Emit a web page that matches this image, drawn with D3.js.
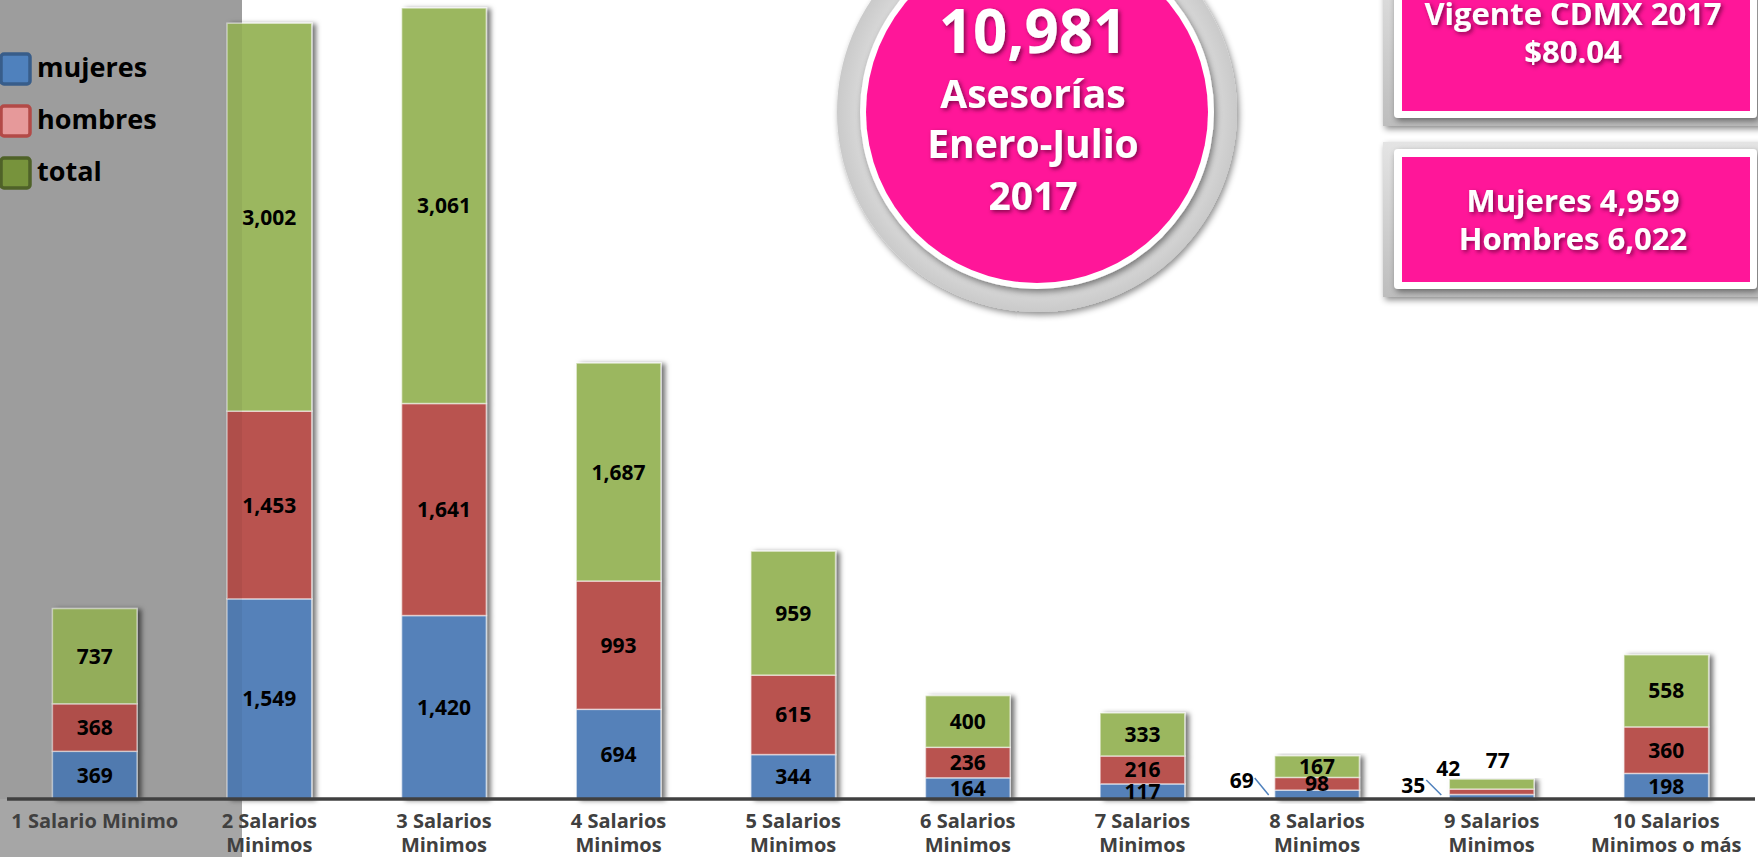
<!DOCTYPE html>
<meta charset="utf-8">
<script src="https://d3js.org/d3.v7.min.js"></script>
<style>
body { margin: 0; background: #fff; }
text { font-family: "Open Sans", "Noto Sans", sans-serif; font-weight: bold; }
</style>
<div id="chart"></div>
<script>
// datos de la grafica
var categorias = [["1 Salario Minimo"], ["2 Salarios", "Minimos"], ["3 Salarios", "Minimos"],
  ["4 Salarios", "Minimos"], ["5 Salarios", "Minimos"], ["6 Salarios", "Minimos"],
  ["7 Salarios", "Minimos"], ["8 Salarios", "Minimos"], ["9 Salarios", "Minimos"],
  ["10 Salarios", "Minimos o más"]];
var mujeres = [369, 1549, 1420, 694, 344, 164, 117, 69, 35, 198];
var hombres = [368, 1453, 1641, 993, 615, 236, 216, 98, 42, 360];
var total   = [737, 3002, 3061, 1687, 959, 400, 333, 167, 77, 558];
var series = ["mujeres", "hombres", "total"];
var circuloTexto = ["10,981", "Asesorías", "Enero-Julio", "2017"];
var caja1Texto = ["Vigente CDMX 2017", "$80.04"];
var caja2Texto = ["Mujeres 4,959", "Hombres 6,022"];

var W = 1758, H = 857;
var colorBarra = {mujeres: "#5581b9", hombres: "#b9534f", total: "#9bb75e"};
var leyenda = [
  {k: "mujeres", fill: "#4f81bd", stroke: "#385d8a"},
  {k: "hombres", fill: "#e6999a", stroke: "#b34a47"},
  {k: "total",   fill: "#77933c", stroke: "#4f6228"}
];

var rows = categorias.map(function(c, i) {
  return {cat: c.join(" "), lineas: c, mujeres: mujeres[i], hombres: hombres[i], total: total[i]};
});

var svg = d3.select("#chart").append("svg").attr("width", W).attr("height", H);
var defs = svg.append("defs");
defs.append("filter").attr("id", "sombra").attr("x", "-20%").attr("y", "-5%").attr("width", "150%").attr("height", "115%")
  .append("feDropShadow").attr("dx", 4).attr("dy", 1).attr("stdDeviation", 2.5)
  .attr("flood-color", "#000").attr("flood-opacity", 0.55);
defs.append("filter").attr("id", "sombraTxt").attr("x", "-10%").attr("y", "-20%").attr("width", "130%").attr("height", "150%")
  .append("feDropShadow").attr("dx", 2).attr("dy", 2).attr("stdDeviation", 2)
  .attr("flood-color", "#5a0030").attr("flood-opacity", 0.75);
defs.append("filter").attr("id", "sombraCaja").attr("x", "-10%").attr("y", "-10%").attr("width", "130%").attr("height", "130%")
  .append("feDropShadow").attr("dx", 2).attr("dy", 3).attr("stdDeviation", 3)
  .attr("flood-color", "#000").attr("flood-opacity", 0.45);
var gCaja = defs.append("linearGradient").attr("id", "gradCaja").attr("x1", 0).attr("y1", 0).attr("x2", 0).attr("y2", 1);
gCaja.append("stop").attr("offset", "0%").attr("stop-color", "#e4e4e4");
gCaja.append("stop").attr("offset", "100%").attr("stop-color", "#bdbdbd");
var gAnillo = defs.append("radialGradient").attr("id", "gradAnillo");
gAnillo.append("stop").attr("offset", "88%").attr("stop-color", "#d9d9d9");
gAnillo.append("stop").attr("offset", "100%").attr("stop-color", "#cacaca");

// panel gris de la izquierda
svg.append("rect").attr("x", 0).attr("y", 0).attr("width", 242).attr("height", H).attr("fill", "#a6a6a6");

var x = d3.scaleBand().domain(rows.map(function(d) { return d.cat; }))
  .range([7, 1754]).paddingInner(0.515).paddingOuter(0.26);
var y = d3.scaleLinear().domain([0, 6184]).range([799, 0]);

var stack = d3.stack().keys(series)(rows);

// barras
var barras = svg.append("g").selectAll("g.barra").data(rows).enter().append("g")
  .attr("class", "barra").attr("filter", "url(#sombra)");
barras.selectAll("rect").data(function(d, i) {
    return stack.map(function(s) { return {key: s.key, y0: s[i][0], y1: s[i][1], cat: d.cat}; });
  }).enter().append("rect")
  .attr("x", function(d) { return x(d.cat); })
  .attr("width", x.bandwidth())
  .attr("y", function(d) { return y(d.y1); })
  .attr("height", function(d) { return y(d.y0) - y(d.y1); })
  .attr("fill", function(d) { return colorBarra[d.key]; })
  .attr("stroke", "rgba(255,255,255,0.55)").attr("stroke-width", 1.5);

// capa del panel gris encima de las barras
svg.append("rect").attr("x", 0).attr("y", 0).attr("width", 242).attr("height", 799)
  .attr("fill", "#000").attr("opacity", 0.05);

// eje
svg.append("line").attr("x1", 7).attr("x2", 1755).attr("y1", 799).attr("y2", 799)
  .attr("stroke", "#404040").attr("stroke-width", 3.5);

// etiquetas de los ejes
var etq = svg.append("g").selectAll("text").data(rows).enter().append("text")
  .attr("x", function(d) { return x(d.cat) + x.bandwidth() / 2; })
  .attr("y", 828).attr("text-anchor", "middle").attr("fill", "#404040").style("font-size", "20px");
etq.selectAll("tspan").data(function(d) { return d.lineas; }).enter().append("tspan")
  .attr("x", function() { return d3.select(this.parentNode).attr("x"); })
  .attr("dy", function(d, i) { return i ? 24 : 0; })
  .text(function(d) { return d; });

// etiquetas de valores
var fmt = d3.format(",");
var gLab = svg.append("g").style("font-size", "21px").attr("fill", "#000");
stack.forEach(function(s) {
  s.forEach(function(p, i) {
    var d = rows[i], v = d[s.key];
    var x0 = x(d.cat), cx = x0 + x.bandwidth() / 2;
    var t = gLab.append("text").text(fmt(v));
    if (d.cat.indexOf("8 Salarios") === 0 && s.key === "mujeres") {
      t.attr("x", x0 - 21).attr("y", 788).attr("text-anchor", "end");
      gLab.append("line").attr("x1", x0 - 20).attr("y1", 778).attr("x2", x0 - 6).attr("y2", 795)
        .attr("stroke", "#4f81bd").attr("stroke-width", 1.5);
    } else if (d.cat.indexOf("9 Salarios") === 0 && s.key === "mujeres") {
      t.attr("x", x0 - 24).attr("y", 793).attr("text-anchor", "end");
      gLab.append("line").attr("x1", x0 - 23).attr("y1", 780).attr("x2", x0 - 8).attr("y2", 795)
        .attr("stroke", "#4f81bd").attr("stroke-width", 1.5);
    } else if (d.cat.indexOf("9 Salarios") === 0 && s.key === "hombres") {
      t.attr("x", x0 - 1).attr("y", 776).attr("text-anchor", "middle");
    } else if (d.cat.indexOf("9 Salarios") === 0 && s.key === "total") {
      t.attr("x", cx + 6).attr("y", 768).attr("text-anchor", "middle");
    } else {
      t.attr("x", cx).attr("y", (y(p[0]) + y(p[1])) / 2).attr("dy", "0.36em").attr("text-anchor", "middle");
    }
  });
});

// leyenda
var gLey = svg.append("g");
leyenda.forEach(function(l, i) {
  gLey.append("rect").attr("x", 1).attr("y", 54 + i * 52).attr("width", 29).attr("height", 30)
    .attr("rx", 3).attr("fill", l.fill).attr("stroke", l.stroke).attr("stroke-width", 3.5);
  gLey.append("text").attr("x", 37).attr("y", 77 + i * 52).style("font-size", "27px").attr("fill", "#000").text(l.k);
});

// circulo central
var cx0 = 1037, cy0 = 112;
svg.append("circle").attr("cx", cx0).attr("cy", cy0).attr("r", 200).attr("fill", "url(#gradAnillo)")
  .attr("filter", "url(#sombraCaja)");
var gCirc = svg.append("g").attr("filter", "url(#sombraCaja)");
gCirc.append("circle").attr("cx", cx0).attr("cy", cy0).attr("r", 177).attr("fill", "#fff");
gCirc.append("circle").attr("cx", cx0).attr("cy", cy0).attr("r", 171).attr("fill", "#ff1699");
var gTxt = svg.append("g").attr("filter", "url(#sombraTxt)").attr("fill", "#fff").attr("text-anchor", "middle");
var circY = [53, 108, 158, 210], circS = [60, 39, 39, 39];
circuloTexto.forEach(function(t, i) {
  gTxt.append("text").attr("x", 1033).attr("y", circY[i]).style("font-size", circS[i] + "px").text(t);
});

// cajas de la derecha
function caja(y0, y1, lineas, ys) {
  svg.append("rect").attr("x", 1383).attr("y", y0 - 7).attr("width", 380).attr("height", y1 - y0 + 15)
    .attr("fill", "url(#gradCaja)").attr("filter", "url(#sombraCaja)");
  svg.append("rect").attr("x", 1394).attr("y", y0).attr("width", 363).attr("height", y1 - y0)
    .attr("rx", 4).attr("fill", "#fff").attr("filter", "url(#sombraCaja)");
  svg.append("rect").attr("x", 1402).attr("y", y0 + 8).attr("width", 348).attr("height", y1 - y0 - 15)
    .attr("fill", "#ff1699");
  var g = svg.append("g").attr("filter", "url(#sombraTxt)").attr("fill", "#fff").attr("text-anchor", "middle");
  lineas.forEach(function(t, i) {
    g.append("text").attr("x", 1573).attr("y", ys[i]).style("font-size", "31px").text(t);
  });
}
caja(-40, 118, caja1Texto, [25, 63]);
caja(149, 289, caja2Texto, [212, 250]);
</script>
